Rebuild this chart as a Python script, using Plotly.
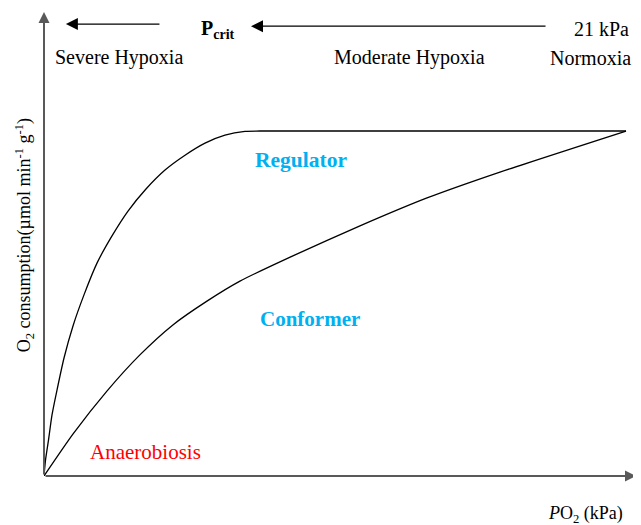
import plotly.graph_objects as go

# Oxygen consumption vs PO2 (schematic), x in kPa, y normalised to the normoxic rate
reg_x = [0, 0.054, 0.162, 0.289, 0.469, 0.722, 1.046, 1.443, 1.912, 2.454, 3.031, 3.68,
         4.366, 5.088, 5.81, 6.53, 7.25, 7.79, 21]
reg_y = [0, 0.046, 0.104, 0.177, 0.249, 0.342, 0.435, 0.525, 0.617, 0.696, 0.768, 0.832,
         0.887, 0.930, 0.965, 0.988, 0.999, 1.0, 1.0]

conf_x = [0, 1.05, 2.27, 3.46, 4.65, 5.88, 7.07, 8.98, 11.40, 13.82, 16.45, 21]
conf_y = [0, 0.122, 0.246, 0.351, 0.438, 0.507, 0.565, 0.638, 0.725, 0.806, 0.881, 1.0]

X_MAX = 21.36
Y_MAX = 1.345
FONT = "Liberation Serif"
AXIS_C = "#595959"
BLUE = "#00B0F0"
RED = "#FF0000"

fig = go.Figure()
fig.add_trace(go.Scatter(x=reg_x, y=reg_y, mode="lines", name="Regulator",
                         line=dict(color="black", width=1.3, shape="spline", smoothing=0.6)))
fig.add_trace(go.Scatter(x=conf_x, y=conf_y, mode="lines", name="Conformer",
                         line=dict(color="black", width=1.3, shape="spline", smoothing=0.6)))


def arrow(x, y, ax, ay, width, size, color):
    fig.add_annotation(x=x, y=y, ax=ax, ay=ay, xref="x", yref="y", axref="x", ayref="y",
                       text="", showarrow=True, arrowhead=2, arrowwidth=width,
                       arrowsize=size, arrowcolor=color)


# axes drawn as arrows
arrow(X_MAX, 0, 0, 0, 2, 1.1, AXIS_C)
arrow(0, Y_MAX, 0, 0, 2, 1.1, AXIS_C)
# hypoxia arrows along the top
arrow(0.79, 1.31, 4.22, 1.31, 1.2, 2.0, "black")
arrow(7.47, 1.304, 18.15, 1.304, 1.2, 2.0, "black")


def label(x, y, text, size=20, color="black", anchor="left", angle=0, ref="x"):
    fig.add_annotation(x=x, y=y, xref=ref, yref=ref.replace("x", "y"), text=text,
                       showarrow=False, xanchor=anchor, yanchor="middle", textangle=angle,
                       font=dict(family=FONT, size=size, color=color))


label(0.32, 1.212, "Severe Hypoxia")
label(10.39, 1.212, "Moderate Hypoxia")
label(18.19, 1.212, "Normoxia")
label(19.05, 1.296, "21 kPa")
label(5.59, 1.295, "<b>P<sub>crit</sub></b>")
label(7.55, 0.916, "<b>Regulator</b>", size=21.5, color=BLUE)
label(7.72, 0.455, "<b>Conformer</b>", size=21, color=BLUE)
label(1.59, 0.070, "Anaerobiosis", size=21, color=RED)
label(0.915, -0.082, "<i>P</i>O<sub>2</sub> (kPa)", size=18, anchor="center", ref="paper")
label(-0.033, 0.52, "O<sub>2</sub> consumption(µmol min<sup>-1</sup> g<sup>-1</sup>)",
      size=18, anchor="center", angle=-90, ref="paper")

# page body adds an 8px offset, so the figure is sized 8px smaller
fig.update_layout(
    width=633, height=517,
    margin=dict(l=36, r=5, t=4, b=49),
    paper_bgcolor="white", plot_bgcolor="white",
    showlegend=False,
    xaxis=dict(range=[0, X_MAX], visible=False, fixedrange=True),
    yaxis=dict(range=[0, Y_MAX], visible=False, fixedrange=True),
)

fig.write_html("out.html")
